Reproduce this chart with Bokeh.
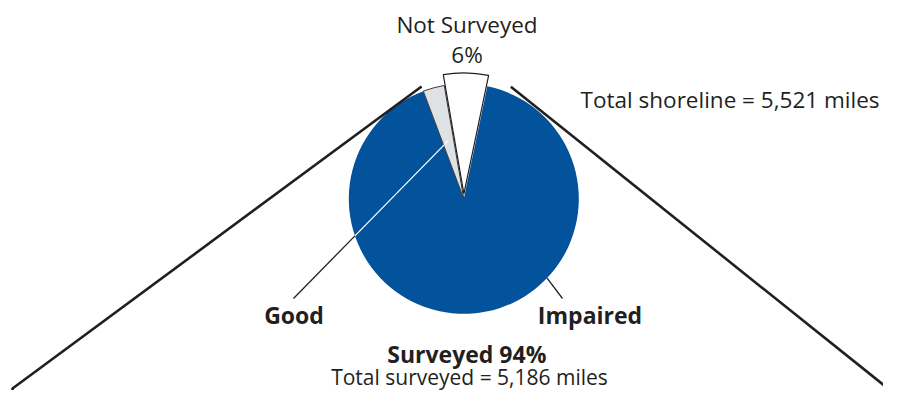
import math
from bokeh.plotting import figure
from bokeh.models import Range1d
from bokeh.core.properties import value
from bokeh.embed import file_html
from bokeh.resources import INLINE

# ---------------- data ----------------
categories = ["Not Surveyed", "Good", "Impaired"]
percents = [6, 3, 91]
colors = ["#ffffff", "#dfe2e5", "#02529c"]
surveyed_pct = 94
not_surveyed_pct = 6
total_shoreline = "5,521"
total_surveyed = "5,186"

# ---------------- layout (reference pixel space; y flipped below) ----------------
W, H = 883, 390
def Y(yref):
    return 406 - yref

CX, CY = 463.3, Y(198.3)
R = 115
R_NS = 121
EXPLODE = 5
START_DEG = 78.2
INK = "#231f20"
FONT = "Open Sans"
TEXT_DY = 8  # compensation for text baseline placement

p = figure(width=W, height=H, x_range=Range1d(0, W), y_range=Range1d(406 - H, 406),
           output_backend="svg", toolbar_location=None,
           x_axis_location=None, y_axis_location=None, min_border=0)
p.grid.visible = False
p.outline_line_color = None
p.background_fill_color = "white"
p.border_fill_color = "white"

# angles from data
angles = {}
a = START_DEG
for c, v in zip(categories, percents):
    span = v / 100 * 360
    angles[c] = (a, a + span)
    a += span

def rad(d):
    return d * math.pi / 180

# Impaired (blue)
s, e = angles["Impaired"]
p.wedge(x=[CX], y=[CY], radius=R, start_angle=[rad(s)], end_angle=[rad(e)],
        fill_color=colors[2], line_color=None)
# Good (gray)
s, e = angles["Good"]
p.wedge(x=[CX], y=[CY], radius=R, start_angle=[rad(s)], end_angle=[rad(e)],
        fill_color=colors[1], line_color="#3a3a3a", line_width=1)
# Not surveyed (white, exploded)
s, e = angles["Not Surveyed"]
mid = rad((s + e) / 2)
p.wedge(x=[CX + EXPLODE * math.cos(mid)], y=[CY + EXPLODE * math.sin(mid)], radius=R_NS,
        start_angle=[rad(s)], end_angle=[rad(e)],
        fill_color=colors[0], line_color=INK, line_width=1.2)

# funnel lines
FR = 120
la = rad(angles["Good"][1])
lx0, ly0 = CX + FR * math.cos(la), CY + FR * math.sin(la)
p.line(x=[lx0, 12, 12], y=[ly0, Y(388), Y(430)], line_color=INK, line_width=2.6)
ra = rad(67.2)
rx0, ry0 = CX + 121.5 * math.cos(ra), CY + 121.5 * math.sin(ra)
p.line(x=[rx0, 915], y=[ry0, Y(410)], line_color=INK, line_width=2.6)

# leader: Good
gm = rad(sum(angles["Good"]) / 2)
ax, ay = CX + 60 * math.cos(gm), CY + 60 * math.sin(gm)
bx, by = 293, Y(298)
dx, dy = bx - ax, by - ay
fx, fy = ax - CX, ay - CY
A = dx * dx + dy * dy
B = 2 * (fx * dx + fy * dy)
Cc = fx * fx + fy * fy - R * R
t = (-B + math.sqrt(B * B - 4 * A * Cc)) / (2 * A)
ix, iy = ax + t * dx, ay + t * dy
p.line(x=[ax, ix], y=[ay, iy], line_color="white", line_width=1.3)
p.line(x=[ix, bx], y=[iy, by], line_color=INK, line_width=1.3)

# leader: Impaired
ia = rad(-43.6)
p.line(x=[CX + R * math.cos(ia), 562], y=[CY + R * math.sin(ia), Y(298)],
       line_color=INK, line_width=1.3)

# texts
def txt(x, yref, s, size, bold=False, align="center"):
    p.text(x=[x], y=[Y(yref - TEXT_DY)], text=[s], text_font=value(FONT),
           text_font_size=f"{size}px", text_color=INK,
           text_font_style="bold" if bold else "normal",
           text_align=align, text_baseline="alphabetic")

txt(466.5, 31.7, "Not Surveyed", 22.5)
txt(466.5, 61.7, f"{not_surveyed_pct}%", 22.5)
txt(879, 106.7, f"Total shoreline = {total_shoreline} miles", 22.5, align="right")
txt(293.5, 322.3, categories[1], 23, bold=True)
txt(589.5, 322.3, categories[2], 23, bold=True)
txt(466.3, 361, f"Surveyed {surveyed_pct}%", 23, bold=True)
txt(469, 384, f"Total surveyed = {total_surveyed} miles", 21)

open("out.html", "w").write(file_html(p, INLINE))
